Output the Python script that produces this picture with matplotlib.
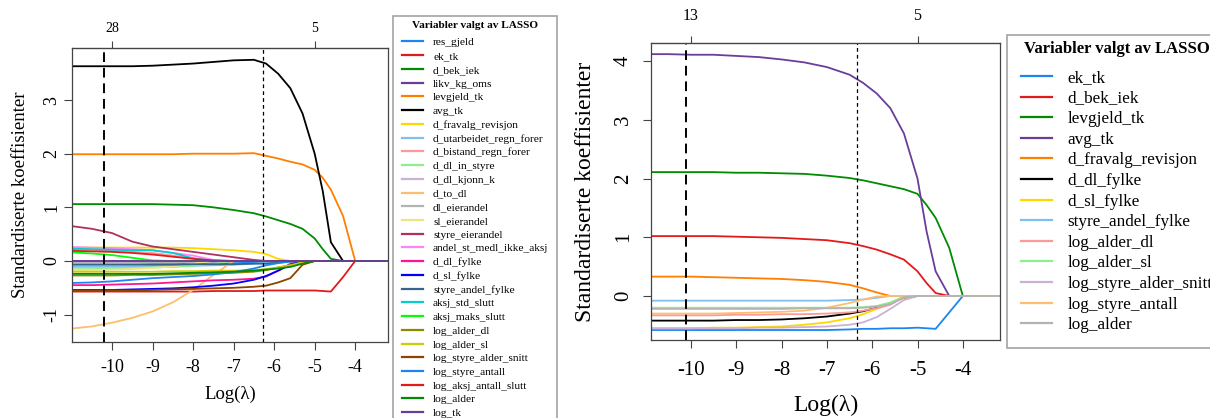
import matplotlib
matplotlib.use("Agg")
import matplotlib.pyplot as plt
from matplotlib.lines import Line2D

plt.rcParams["font.family"] = ["Liberation Serif", "DejaVu Serif"]
plt.rcParams["axes.unicode_minus"] = False

# log(lambda) grid shared by all coefficient paths
log_lambda = [-11.0, -10.5, -10.0, -9.5, -9.0, -8.5, -8.0, -7.5, -7.0, -6.5,
              -6.2, -5.9, -5.6, -5.3, -5.0, -4.8, -4.6, -4.3, -4.0, -3.1]

# ---- full model: 28 candidate variables ----
res_gjeld = [-0.05, -0.05, -0.05, -0.05, -0.05, -0.05, -0.05, -0.04, -0.04, -0.03, -0.02, 0, 0, 0, 0, 0, 0, 0, 0, 0]
ek_tk = [-0.57, -0.57, -0.57, -0.57, -0.57, -0.57, -0.57, -0.56, -0.56, -0.56, -0.55, -0.55, -0.55, -0.55, -0.55, -0.56, -0.57, -0.30, 0, 0]
d_bek_iek = [1.06, 1.06, 1.06, 1.06, 1.06, 1.05, 1.04, 1.00, 0.95, 0.89, 0.83, 0.76, 0.69, 0.60, 0.42, 0.22, 0.04, 0, 0, 0]
likv_kg_oms = [0, 0, 0, 0, 0, 0, 0, 0, 0, 0, 0, 0, 0, 0, 0, 0, 0, 0, 0, 0]
levgjeld_tk = [1.99, 1.99, 1.99, 1.99, 1.99, 1.99, 2.00, 2.00, 2.00, 2.01, 1.96, 1.91, 1.85, 1.80, 1.70, 1.55, 1.33, 0.84, 0, 0]
avg_tk = [3.63, 3.63, 3.63, 3.63, 3.64, 3.66, 3.68, 3.71, 3.74, 3.75, 3.68, 3.49, 3.22, 2.75, 2.00, 1.30, 0.35, 0, 0, 0]
d_fravalg_revisjon = [0.25, 0.25, 0.25, 0.25, 0.25, 0.25, 0.24, 0.22, 0.20, 0.17, 0.13, 0.04, 0, 0, 0, 0, 0, 0, 0, 0]
d_utarbeidet_regn_forer = [-0.11, -0.11, -0.11, -0.11, -0.10, -0.10, -0.09, -0.08, -0.07, -0.05, -0.03, 0, 0, 0, 0, 0, 0, 0, 0, 0]
d_bistand_regn_forer = [0.22, 0.21, 0.19, 0.17, 0.15, 0.10, 0.05, 0, 0, 0, 0, 0, 0, 0, 0, 0, 0, 0, 0, 0]
d_dl_in_styre = [-0.15, -0.15, -0.14, -0.13, -0.12, -0.11, -0.09, -0.05, 0, 0, 0, 0, 0, 0, 0, 0, 0, 0, 0, 0]
d_dl_kjonn_k = [-0.03, -0.03, -0.03, -0.03, -0.02, -0.01, 0, 0, 0, 0, 0, 0, 0, 0, 0, 0, 0, 0, 0, 0]
d_to_dl = [-1.26, -1.22, -1.15, -1.06, -0.94, -0.77, -0.54, -0.26, 0, 0, 0, 0, 0, 0, 0, 0, 0, 0, 0, 0]
dl_eierandel = [-0.04, -0.04, -0.04, -0.04, -0.03, -0.03, -0.02, -0.01, 0, 0, 0, 0, 0, 0, 0, 0, 0, 0, 0, 0]
sl_eierandel = [-0.17, -0.17, -0.16, -0.15, -0.13, -0.10, -0.05, 0, 0, 0, 0, 0, 0, 0, 0, 0, 0, 0, 0, 0]
styre_eierandel = [0.65, 0.60, 0.52, 0.36, 0.27, 0.22, 0.17, 0.12, 0.07, 0.02, 0, 0, 0, 0, 0, 0, 0, 0, 0, 0]
andel_st_medl_ikke_aksj = [0.26, 0.25, 0.24, 0.22, 0.20, 0.15, 0.10, 0.02, 0, 0, 0, 0, 0, 0, 0, 0, 0, 0, 0, 0]
d_dl_fylke = [-0.45, -0.45, -0.44, -0.43, -0.42, -0.40, -0.38, -0.36, -0.35, -0.33, -0.29, -0.18, -0.05, 0, 0, 0, 0, 0, 0, 0]
d_sl_fylke = [-0.54, -0.54, -0.54, -0.53, -0.52, -0.51, -0.49, -0.46, -0.42, -0.35, -0.28, -0.18, -0.07, 0, 0, 0, 0, 0, 0, 0]
styre_andel_fylke = [-0.07, -0.07, -0.07, -0.07, -0.07, -0.07, -0.06, -0.06, -0.06, -0.05, -0.05, -0.03, -0.01, 0, 0, 0, 0, 0, 0, 0]
aksj_std_slutt = [0.23, 0.22, 0.21, 0.20, 0.20, 0.15, 0.05, 0, 0, 0, 0, 0, 0, 0, 0, 0, 0, 0, 0, 0]
aksj_maks_slutt = [0.16, 0.14, 0.11, 0.06, 0.01, 0, 0, 0, 0, 0, 0, 0, 0, 0, 0, 0, 0, 0, 0, 0]
log_alder_dl = [-0.27, -0.27, -0.27, -0.26, -0.26, -0.25, -0.24, -0.23, -0.22, -0.20, -0.17, -0.12, -0.08, -0.04, 0, 0, 0, 0, 0, 0]
log_alder_sl = [-0.20, -0.20, -0.20, -0.20, -0.20, -0.19, -0.19, -0.18, -0.18, -0.17, -0.15, -0.12, -0.08, -0.02, 0, 0, 0, 0, 0, 0]
log_styre_alder_snitt = [-0.55, -0.55, -0.55, -0.55, -0.54, -0.53, -0.52, -0.51, -0.50, -0.48, -0.46, -0.40, -0.32, -0.07, 0, 0, 0, 0, 0, 0]
log_styre_antall = [-0.41, -0.40, -0.38, -0.35, -0.32, -0.30, -0.28, -0.25, -0.21, -0.14, -0.08, -0.04, -0.01, 0, 0, 0, 0, 0, 0, 0]
log_aksj_antall_slutt = [0.19, 0.18, 0.17, 0.15, 0.12, 0.08, 0.04, 0.01, 0, 0, 0, 0, 0, 0, 0, 0, 0, 0, 0, 0]
log_alder = [-0.24, -0.24, -0.24, -0.24, -0.24, -0.23, -0.22, -0.21, -0.20, -0.18, -0.16, -0.14, -0.11, -0.05, 0, 0, 0, 0, 0, 0]
log_tk = [0, 0, 0, 0, 0, 0, 0, 0, 0, 0, 0, 0, 0, 0, 0, 0, 0, 0, 0, 0]

full_names = ["res_gjeld", "ek_tk", "d_bek_iek", "likv_kg_oms", "levgjeld_tk", "avg_tk",
              "d_fravalg_revisjon", "d_utarbeidet_regn_forer", "d_bistand_regn_forer",
              "d_dl_in_styre", "d_dl_kjonn_k", "d_to_dl", "dl_eierandel", "sl_eierandel",
              "styre_eierandel", "andel_st_medl_ikke_aksj", "d_dl_fylke", "d_sl_fylke",
              "styre_andel_fylke", "aksj_std_slutt", "aksj_maks_slutt", "log_alder_dl",
              "log_alder_sl", "log_styre_alder_snitt", "log_styre_antall",
              "log_aksj_antall_slutt", "log_alder", "log_tk"]
full_paths = [res_gjeld, ek_tk, d_bek_iek, likv_kg_oms, levgjeld_tk, avg_tk,
              d_fravalg_revisjon, d_utarbeidet_regn_forer, d_bistand_regn_forer,
              d_dl_in_styre, d_dl_kjonn_k, d_to_dl, dl_eierandel, sl_eierandel,
              styre_eierandel, andel_st_medl_ikke_aksj, d_dl_fylke, d_sl_fylke,
              styre_andel_fylke, aksj_std_slutt, aksj_maks_slutt, log_alder_dl,
              log_alder_sl, log_styre_alder_snitt, log_styre_antall,
              log_aksj_antall_slutt, log_alder, log_tk]
full_df_ticks = [-10, -5]
full_df_labels = ["28", "5"]
full_cv_lines = [-10.2, -6.27]

# ---- reduced model: 13 selected variables ----
r_ek_tk = [-0.58, -0.58, -0.58, -0.58, -0.58, -0.58, -0.58, -0.58, -0.58, -0.57, -0.56, -0.56, -0.55, -0.55, -0.54, -0.55, -0.56, -0.28, 0, 0]
r_d_bek_iek = [1.02, 1.02, 1.02, 1.02, 1.01, 1.00, 0.99, 0.97, 0.95, 0.90, 0.85, 0.79, 0.71, 0.62, 0.42, 0.22, 0.05, 0, 0, 0]
r_levgjeld_tk = [2.11, 2.11, 2.11, 2.11, 2.10, 2.10, 2.09, 2.08, 2.05, 2.01, 1.97, 1.92, 1.87, 1.82, 1.74, 1.55, 1.33, 0.82, 0, 0]
r_avg_tk = [4.12, 4.12, 4.11, 4.11, 4.09, 4.07, 4.03, 3.98, 3.90, 3.77, 3.63, 3.45, 3.20, 2.77, 2.00, 1.10, 0.42, 0, 0, 0]
r_d_fravalg_revisjon = [0.33, 0.33, 0.33, 0.32, 0.31, 0.30, 0.29, 0.27, 0.24, 0.19, 0.13, 0.06, 0, 0, 0, 0, 0, 0, 0, 0]
r_d_dl_fylke = [-0.42, -0.42, -0.42, -0.42, -0.41, -0.41, -0.40, -0.38, -0.35, -0.30, -0.26, -0.20, -0.12, -0.03, 0, 0, 0, 0, 0, 0]
r_d_sl_fylke = [-0.55, -0.55, -0.55, -0.54, -0.54, -0.53, -0.52, -0.49, -0.45, -0.38, -0.31, -0.22, -0.13, -0.03, 0, 0, 0, 0, 0, 0]
r_styre_andel_fylke = [-0.08, -0.08, -0.08, -0.08, -0.08, -0.08, -0.08, -0.08, -0.08, -0.07, -0.06, -0.03, 0, 0, 0, 0, 0, 0, 0, 0]
r_log_alder_dl = [-0.33, -0.33, -0.33, -0.33, -0.32, -0.32, -0.31, -0.31, -0.30, -0.28, -0.25, -0.21, -0.15, -0.02, 0, 0, 0, 0, 0, 0]
r_log_alder_sl = [-0.20, -0.20, -0.20, -0.20, -0.20, -0.20, -0.20, -0.20, -0.20, -0.20, -0.19, -0.17, -0.11, -0.01, 0, 0, 0, 0, 0, 0]
r_log_styre_alder_snitt = [-0.55, -0.55, -0.55, -0.55, -0.55, -0.54, -0.54, -0.53, -0.52, -0.49, -0.45, -0.36, -0.22, -0.07, 0, 0, 0, 0, 0, 0]
r_log_styre_antall = [-0.30, -0.30, -0.30, -0.30, -0.29, -0.28, -0.27, -0.25, -0.20, -0.12, -0.06, -0.01, 0, 0, 0, 0, 0, 0, 0, 0]
r_log_alder = [-0.22, -0.22, -0.22, -0.22, -0.22, -0.22, -0.22, -0.21, -0.21, -0.21, -0.20, -0.18, -0.14, -0.02, 0, 0, 0, 0, 0, 0]

reduced_names = ["ek_tk", "d_bek_iek", "levgjeld_tk", "avg_tk", "d_fravalg_revisjon",
                 "d_dl_fylke", "d_sl_fylke", "styre_andel_fylke", "log_alder_dl",
                 "log_alder_sl", "log_styre_alder_snitt", "log_styre_antall", "log_alder"]
reduced_paths = [r_ek_tk, r_d_bek_iek, r_levgjeld_tk, r_avg_tk, r_d_fravalg_revisjon,
                 r_d_dl_fylke, r_d_sl_fylke, r_styre_andel_fylke, r_log_alder_dl,
                 r_log_alder_sl, r_log_styre_alder_snitt, r_log_styre_antall, r_log_alder]
reduced_df_ticks = [-10, -5]
reduced_df_labels = ["13", "5"]
reduced_cv_lines = [-10.11, -6.34]

# 24-colour qualitative palette, recycled when there are more variables
palette = ["#1C86EE", "#E31A1C", "#008B00", "#6A3D9A", "#FF7F00", "#000000",
           "#FFD700", "#7EC0EE", "#FB9A99", "#90EE90", "#CAB2D6", "#FDBF6F",
           "#B3B3B3", "#EEE685", "#B03060", "#FF83FA", "#FF1493", "#0000FF",
           "#36648B", "#00CED1", "#00FF00", "#8B8B00", "#CDCD00", "#8B4500"]

W, H = 1210, 418
fig = plt.figure(figsize=(W / 100, H / 100), dpi=100)


def px_axes(x0, y0, x1, y1):
    return fig.add_axes([x0 / W, 1 - y1 / H, (x1 - x0) / W, (y1 - y0) / H])


def draw_path_panel(ax, paths, names, xlim, ylim, yticks, df_ticks, df_labels,
                    cv_lines, tick_fs, label_fs, top_fs, top_pad, xtick_pad,
                    ytick_pad, xlab_pad, ylab_pad):
    handles = []
    for i, (vals, name) in enumerate(zip(paths, names)):
        col = palette[i % len(palette)]
        ax.plot(log_lambda, vals, color=col, lw=1.3, solid_joinstyle="round")
        handles.append(Line2D([], [], color=col, lw=1.6, label=name))
    ax.axvline(cv_lines[0], color="black", lw=1.4, ls=(0, (5, 3)))
    ax.axvline(cv_lines[1], color="black", lw=0.9, ls=(0, (3, 2.5)))
    ax.set_xlim(*xlim)
    ax.set_ylim(*ylim)
    ax.set_xticks([-10, -9, -8, -7, -6, -5, -4])
    ax.set_yticks(yticks)
    ax.tick_params(direction="out", length=6, width=0.8, color="#444444",
                   labelsize=tick_fs)
    ax.tick_params(axis="x", pad=xtick_pad)
    ax.tick_params(axis="y", pad=ytick_pad)
    for lab in ax.get_yticklabels():
        lab.set_rotation(90)
        lab.set_va("center")
    for sp in ax.spines.values():
        sp.set_color("#444444")
        sp.set_linewidth(0.9)
    ax.set_xlabel("Log(\u03bb)", fontsize=label_fs, labelpad=xlab_pad)
    ax.set_ylabel("Standardiserte koeffisienter", fontsize=label_fs, labelpad=ylab_pad)
    top = ax.secondary_xaxis("top")
    top.set_xticks(df_ticks)
    top.set_xticklabels(df_labels)
    top.tick_params(direction="out", length=5, width=0.8, color="#444444",
                    labelsize=top_fs, pad=top_pad)
    return handles


ax1 = px_axes(72, 48, 388, 342)
h1 = draw_path_panel(ax1, full_paths, full_names, (-10.99, -3.19), (-1.51, 3.97),
                     [-1, 0, 1, 2, 3], full_df_ticks, full_df_labels, full_cv_lines,
                     tick_fs=13, label_fs=13.5, top_fs=10, top_pad=4.5,
                     xtick_pad=6, ytick_pad=2.5, xlab_pad=7.5, ylab_pad=10)

ax2 = px_axes(651, 43, 1000, 340)
h2 = draw_path_panel(ax2, reduced_paths, reduced_names, (-10.88, -3.18), (-0.75, 4.31),
                     [0, 1, 2, 3, 4], reduced_df_ticks, reduced_df_labels, reduced_cv_lines,
                     tick_fs=15, label_fs=17, top_fs=11.5, top_pad=8.5,
                     xtick_pad=9, ytick_pad=7, xlab_pad=11, ylab_pad=13)

leg1 = fig.legend(handles=h1, loc="upper left", bbox_to_anchor=(393 / W, 1 - 16 / H),
                  title="Variabler valgt av LASSO", fontsize=8.2,
                  title_fontproperties={"weight": "bold", "size": 8.1},
                  frameon=True, fancybox=False, edgecolor="#8c8c8c",
                  handlelength=1.9, handletextpad=0.85, labelspacing=0.33,
                  borderpad=0.4, borderaxespad=0)
leg1.get_frame().set_linewidth(1.2)
leg1._legend_handle_box.pad = 3

leg2 = fig.legend(handles=h2, loc="upper left", bbox_to_anchor=(1007 / W, 1 - 35 / H),
                  title="Variabler valgt av LASSO", fontsize=12.3,
                  title_fontproperties={"weight": "bold", "size": 12.0},
                  frameon=True, fancybox=False, edgecolor="#8c8c8c",
                  handlelength=1.8, handletextpad=0.9, labelspacing=0.27,
                  borderpad=0.35, borderaxespad=0)
leg2.get_frame().set_linewidth(1.2)
leg2._legend_handle_box.pad = 6

fig.savefig("out.png", dpi=100)
